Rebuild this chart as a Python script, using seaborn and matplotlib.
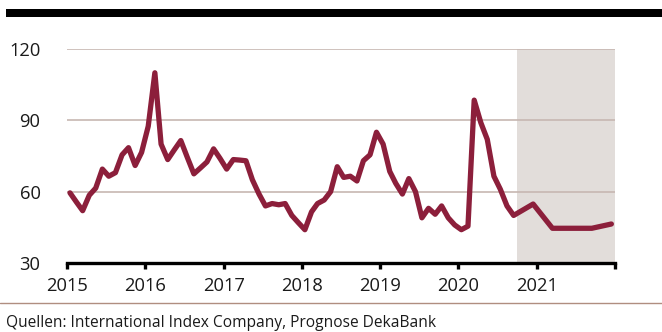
import matplotlib
matplotlib.use('Agg')
import matplotlib.pyplot as plt
import seaborn as sns
import pandas as pd
from matplotlib.patches import Rectangle
from matplotlib.lines import Line2D

sns.set_theme(style='white')
plt.rcParams['font.family'] = ['Open Sans', 'DejaVu Sans']

# ---- data ----
hist_start = '2015-01'
hist_values = [59.5, 55.5, 52, 58.5, 61.5, 69.5, 66.5, 68, 75.5, 78.5, 71, 76.5,
               87.5, 110, 80, 73.5, 77.5, 81.5, 74.5, 67.5, 70, 72.5, 78, 74,
               69.5, 73.5, 73.3, 73, 65, 59, 54, 55, 54.5, 55, 50, 47,
               44, 51.5, 55, 56.5, 60, 70.5, 66, 66.5, 64.5, 73, 75.5, 85,
               80, 68.5, 63.5, 59, 65.5, 60, 49, 53, 50.5, 54, 49, 46,
               44, 45.5, 98.5, 89, 82, 66.5, 61, 54, 50]
forecast_months = ['2020-12', '2021-03', '2021-06', '2021-09', '2021-12']
forecast_values = [54.8, 44.6, 44.6, 44.6, 46.4]
year_labels = ['2015', '2016', '2017', '2018', '2019', '2020', '2021']
y_ticks = [30, 60, 90, 120]
shade_start = '2020-10-01'
source_text = 'Quellen: International Index Company, Prognose DekaBank'

hist_dates = pd.date_range(hist_start, periods=len(hist_values), freq='MS') + pd.Timedelta(days=14)
fc_dates = pd.to_datetime(forecast_months) + pd.Timedelta(days=14)
df = pd.DataFrame({'date': list(hist_dates) + list(fc_dates),
                   'value': hist_values + forecast_values})

W, H = 662, 332
fig = plt.figure(figsize=(W / 100, H / 100), dpi=100)
ax = fig.add_axes([67 / W, 69 / H, 548 / W, 214 / H])

x0, x1 = pd.Timestamp('2015-01-01'), pd.Timestamp('2022-01-01')
ax.axvspan(pd.Timestamp(shade_start), x1, color='#E2DDDA', lw=0, zorder=0)
for y in y_ticks[1:]:
    ax.axhline(y, color='#C7B7B2', lw=1.2, zorder=1)

sns.lineplot(data=df, x='date', y='value', ax=ax, color='#8C1F3B', lw=3.8,
             zorder=3, solid_capstyle='round', solid_joinstyle='round')

ax.set_xlim(x0, x1)
ax.set_ylim(30, 120)
ax.set_yticks(y_ticks)
ax.set_yticklabels([str(v) for v in y_ticks])
year_ticks = [pd.Timestamp(f'{y}-01-01') for y in range(2015, 2023)]
ax.set_xticks(year_ticks)
ax.set_xticklabels(year_labels + [''])
ax.set_xlabel('')
ax.set_ylabel('')

for s in ['left', 'right', 'top']:
    ax.spines[s].set_visible(False)
ax.spines['bottom'].set_color('black')
ax.spines['bottom'].set_linewidth(2.4)
ax.tick_params(axis='x', length=4, width=2.4, color='black', pad=6,
               labelsize=13.2, labelcolor='#1a1a1a', bottom=True)
ax.tick_params(axis='y', length=0, pad=19, labelsize=13.2, labelcolor='#1a1a1a')

# decorations
fig.add_artist(Rectangle((6 / W, (H - 17) / H), (W - 6) / W, 8 / H,
                         transform=fig.transFigure, color='black', lw=0))
fig.add_artist(Line2D([0, 1], [(H - 303) / H] * 2, transform=fig.transFigure,
                      color='#B08E80', lw=1))
fig.text(6 / W, (H - 327) / H, source_text, fontsize=11.2, color='#1a1a1a',
         va='baseline', ha='left')

fig.savefig('out.png', dpi=100)
